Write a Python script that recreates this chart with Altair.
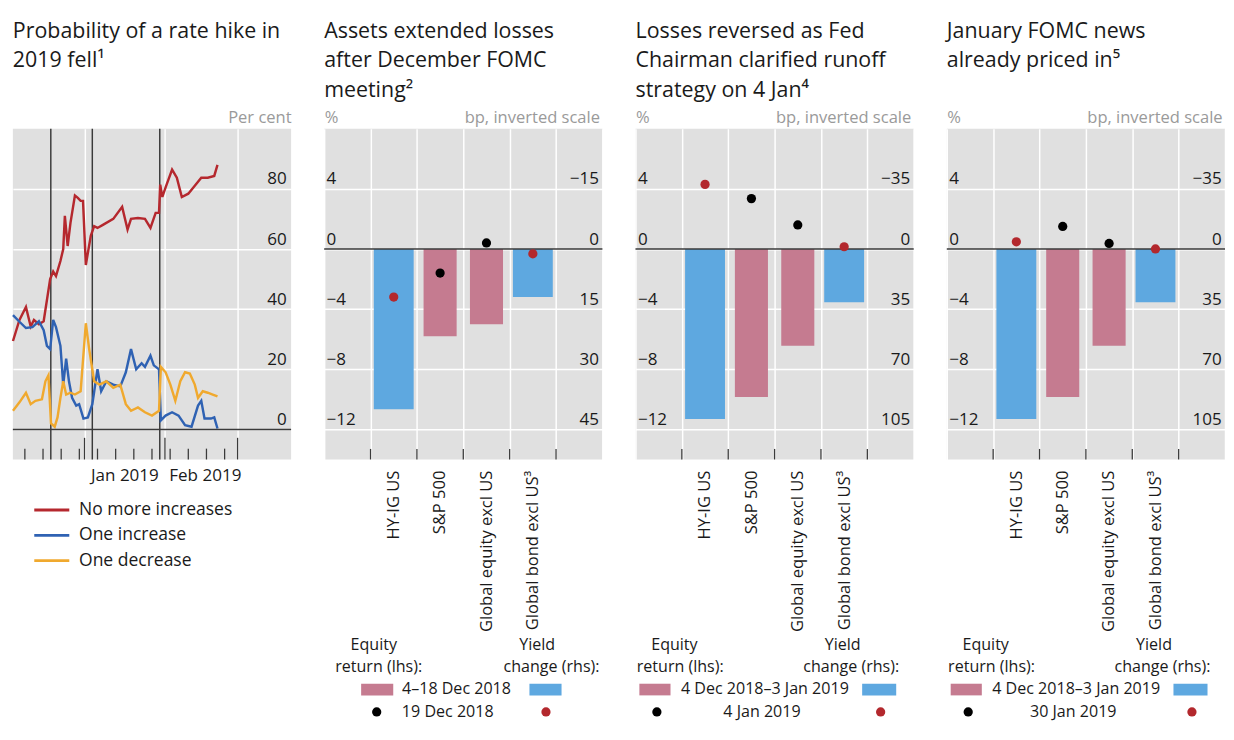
import altair as alt
import pandas as pd

FONT = "Open Sans"
BG = "#e0e0e0"
TXT = "#1a1a1a"
GREY_TXT = "#9a9a9a"
PINK = "#c57b90"
BLUE = "#5ea8e0"
DOT_RED = "#b3282d"
DOT_BLACK = "#000000"
DARK = "#3a3a3a"
W, H = 286, 340

# ---------------- Panel 1 data ----------------
series_names = ["No more increases", "One increase", "One decrease"]
series_colors = ["#b5282e", "#2f62b3", "#f0a92e"]

red_dates = ["2018-12-04T10:00Z", "2018-12-06T22:00Z", "2018-12-09T10:00Z", "2018-12-11T06:00Z",
             "2018-12-12T12:00Z", "2018-12-14T10:00Z", "2018-12-16T06:00Z", "2018-12-18T18:00Z",
             "2018-12-19T22:00Z", "2018-12-21T00:00Z", "2018-12-22T17:00Z", "2018-12-23T19:00Z",
             "2018-12-24T10:00Z", "2018-12-25T12:00Z", "2018-12-26T14:00Z", "2018-12-28T07:00Z",
             "2018-12-29T10:00Z", "2018-12-30T12:00Z", "2018-12-31T10:00Z", "2019-01-01T12:00Z",
             "2019-01-03T10:00Z", "2019-01-04T17:00Z", "2019-01-06T00:00Z", "2019-01-08T02:00Z",
             "2019-01-12T02:00Z", "2019-01-15T12:00Z", "2019-01-17T14:00Z", "2019-01-18T22:00Z",
             "2019-01-21T14:00Z", "2019-01-24T07:00Z", "2019-01-26T10:00Z", "2019-01-28T10:00Z",
             "2019-01-29T17:00Z", "2019-01-30T04:00Z", "2019-01-31T00:00Z", "2019-02-01T06:00Z",
             "2019-02-03T18:00Z", "2019-02-05T14:00Z", "2019-02-07T12:00Z", "2019-02-10T00:00Z",
             "2019-02-12T12:00Z", "2019-02-15T00:00Z", "2019-02-17T12:00Z", "2019-02-20T00:00Z",
             "2019-02-21T06:00Z"]
red_values = [29.4, 36.4, 40.7, 34.2, 36.4, 35, 36, 50, 52.5, 51,
              56, 60, 71, 61, 68.7, 77.8, 77, 76, 76, 54.7,
              64.4, 67.6, 67, 68, 70, 74, 66.5, 70, 70.3, 70,
              67, 72, 72, 81.4, 77.3, 80.5, 86.4, 83.7, 77.3, 78.4,
              81, 83.7, 83.7, 84.3, 88]

blue_dates = ["2018-12-04T10:00Z", "2018-12-06T22:00Z", "2018-12-09T10:00Z", "2018-12-11T22:00Z",
              "2018-12-14T10:00Z", "2018-12-16T06:00Z", "2018-12-17T12:00Z", "2018-12-18T18:00Z",
              "2018-12-19T22:00Z", "2018-12-21T00:00Z", "2018-12-22T17:00Z", "2018-12-23T19:00Z",
              "2018-12-24T22:00Z", "2018-12-26T00:00Z", "2018-12-27T05:00Z", "2018-12-28T19:00Z",
              "2018-12-29T22:00Z", "2018-12-31T14:00Z", "2019-01-02T07:00Z", "2019-01-04T00:00Z",
              "2019-01-06T00:00Z", "2019-01-07T10:00Z", "2019-01-09T10:00Z", "2019-01-12T02:00Z",
              "2019-01-14T19:00Z", "2019-01-16T22:00Z", "2019-01-18T22:00Z", "2019-01-20T22:00Z",
              "2019-01-23T00:00Z", "2019-01-24T07:00Z", "2019-01-26T10:00Z", "2019-01-27T17:00Z",
              "2019-01-29T17:00Z", "2019-01-30T10:00Z", "2019-02-01T06:00Z", "2019-02-03T18:00Z",
              "2019-02-06T06:00Z", "2019-02-08T18:00Z", "2019-02-11T06:00Z", "2019-02-13T18:00Z",
              "2019-02-15T00:00Z", "2019-02-16T06:00Z", "2019-02-18T18:00Z", "2019-02-20T00:00Z",
              "2019-02-21T06:00Z"]
blue_values = [38, 35.8, 33.7, 34, 36, 33, 27.8, 26.7, 36.4, 34,
               27.8, 14.9, 23.5, 16, 10.5, 7.9, 8.4, 3.6, 4, 8.4,
               20, 12.7, 16, 14.9, 14.3, 19, 26.7, 20, 22, 20.8,
               24.5, 21.3, 20, 3, 4.6, 5.7, 4.6, 1.4, 0.9, 7.9,
               9.5, 3.6, 3.6, 4, 0.3]

yellow_dates = ["2018-12-04T10:00Z", "2018-12-06T22:00Z", "2018-12-09T10:00Z", "2018-12-11T06:00Z",
                "2018-12-13T02:00Z", "2018-12-15T14:00Z", "2018-12-16T22:00Z", "2018-12-18T02:00Z",
                "2018-12-19T02:00Z", "2018-12-20T12:00Z", "2018-12-21T14:00Z", "2018-12-22T17:00Z",
                "2018-12-23T19:00Z", "2018-12-24T22:00Z", "2018-12-26T14:00Z", "2018-12-28T07:00Z",
                "2018-12-30T12:00Z", "2019-01-01T12:00Z", "2019-01-02T19:00Z", "2019-01-04T17:00Z",
                "2019-01-06T17:00Z", "2019-01-09T10:00Z", "2019-01-12T02:00Z", "2019-01-14T19:00Z",
                "2019-01-16T22:00Z", "2019-01-18T22:00Z", "2019-01-21T14:00Z", "2019-01-24T07:00Z",
                "2019-01-27T00:00Z", "2019-01-29T17:00Z", "2019-01-30T10:00Z", "2019-02-01T06:00Z",
                "2019-02-03T02:00Z", "2019-02-05T00:00Z", "2019-02-06T22:00Z", "2019-02-08T18:00Z",
                "2019-02-10T14:00Z", "2019-02-12T12:00Z", "2019-02-13T18:00Z", "2019-02-15T14:00Z",
                "2019-02-17T12:00Z", "2019-02-19T10:00Z", "2019-02-21T06:00Z"]
yellow_values = [6.2, 9, 12.2, 8.4, 9.5, 10, 16, 18, 2, 0.9,
                 4, 10.5, 16, 11.6, 12.2, 11.6, 12.7, 35.3, 26.7, 16,
                 14.9, 16, 13.8, 14.9, 8.4, 6.2, 7.3, 5.7, 4.6, 6.2,
                 20.8, 19, 14.9, 9.5, 16, 19, 18.6, 14.9, 10.5, 12.7,
                 12.2, 11.6, 11]

event_dates = ["2018-12-19T00:00Z", "2019-01-04T00:00Z", "2019-01-30T00:00Z"]
week_tick_dates = ["2018-12-09T00:00Z", "2018-12-16T00:00Z", "2018-12-23T00:00Z", "2018-12-30T00:00Z",
                   "2019-01-06T00:00Z", "2019-01-13T00:00Z", "2019-01-20T00:00Z", "2019-01-27T00:00Z",
                   "2019-02-03T00:00Z", "2019-02-10T00:00Z", "2019-02-17T00:00Z", "2019-02-24T00:00Z"]
month_tick_dates = ["2019-01-01T00:00Z", "2019-02-01T00:00Z", "2019-03-01T00:00Z"]

# ---------------- Bar panels data ----------------
categories = ["HY-IG US", "S&P 500", "Global equity excl US", "Global bond excl US³"]
cat_domain = [" "] + categories + ["  "]
equity_cats = ["S&P 500", "Global equity excl US"]
yield_cats = ["HY-IG US", "Global bond excl US³"]

# panel 2: after December FOMC
p2_equity_bars = [-5.8, -5.0]      # %
p2_equity_dots = [-1.6, 0.4]       # %
p2_yield_bars = [40, 12]           # bp
p2_yield_dots = [12, 1.2]          # bp
# panel 3: 4 Jan
p3_equity_bars = [-9.84, -6.44]
p3_equity_dots = [3.35, 1.6]
p3_yield_bars = [99, 31]
p3_yield_dots = [-37.6, -1.3]
# panel 4: January FOMC
p4_equity_bars = [-9.84, -6.44]
p4_equity_dots = [1.5, 0.37]
p4_yield_bars = [99, 31]
p4_yield_dots = [-4.2, 0.0]

titles = [
    ["Probability of a rate hike in", "2019 fell¹"],
    ["Assets extended losses", "after December FOMC", "meeting²"],
    ["Losses reversed as Fed", "Chairman clarified runoff", "strategy on 4 Jan⁴"],
    ["January FOMC news", "already priced in⁵"],
]

one = pd.DataFrame({"k": [0]})
TITLE_Y = [-93, -63, -33]


def title_marks(lines_):
    return [alt.Chart(one).mark_text(text=t, align="left", baseline="alphabetic", fontSize=22,
                                     color=TXT).encode(x=alt.value(0), y=alt.value(ty))
            for t, ty in zip(lines_, TITLE_Y)]


def udt(y, m, d, h=0):
    return alt.DateTime(year=y, month=m, date=d, hours=h, utc=True)


# ---------------- Panel 1 ----------------
x_time_scale = alt.Scale(type="utc", domain=[udt(2018, 12, 4, 9), udt(2019, 3, 21, 15)])
x_time_axis = alt.Axis(values=[udt(2019, 1, 1), udt(2019, 2, 1), udt(2019, 3, 1)],
                       format="%b %Y", labelExpr="datum.label == 'Mar 2019' ? '' : datum.label",
                       labelOffset=41, labelPadding=8, labelAngle=0, labelBaseline="top",
                       grid=True, ticks=False, domain=False, title=None)
y1_scale = alt.Scale(domain=[-10, 100], nice=False, zero=False)
y1_axis = alt.Axis(orient="right", values=[0, 20, 40, 60, 80], grid=True, ticks=False, domain=False,
                   labelAlign="right", labelPadding=-5, labelBaseline="alphabetic", labelOffset=-5,
                   title="Per cent", titleAngle=0, titleAlign="right", titleBaseline="alphabetic",
                   titleX=0, titleY=-6)


def xt():
    return alt.X("date:T", scale=x_time_scale, axis=x_time_axis)


def y1d(v):
    return alt.YDatum(v, scale=y1_scale, axis=y1_axis)


line_df = pd.concat([
    pd.DataFrame({"date": red_dates, "value": red_values, "series": series_names[0]}),
    pd.DataFrame({"date": blue_dates, "value": blue_values, "series": series_names[1]}),
    pd.DataFrame({"date": yellow_dates, "value": yellow_values, "series": series_names[2]}),
])

wk = alt.Chart(pd.DataFrame({"date": week_tick_dates})).mark_rule(color=DARK, strokeWidth=1.3).encode(
    x=xt(), y=y1d(-10), y2=alt.Y2Datum(-6.4))
mt = alt.Chart(pd.DataFrame({"date": month_tick_dates})).mark_rule(color=DARK, strokeWidth=1.3).encode(
    x=xt(), y=y1d(-10), y2=alt.Y2Datum(-2.8))
ev = alt.Chart(pd.DataFrame({"date": event_dates})).mark_rule(color=DARK, strokeWidth=1.5).encode(x=xt())
lines = alt.Chart(line_df).mark_line(strokeWidth=2.5).encode(
    x=xt(),
    y=alt.Y("value:Q", scale=y1_scale, axis=y1_axis),
    color=alt.Color("series:N", scale=alt.Scale(domain=series_names, range=series_colors), legend=None),
)
zero1 = alt.Chart(one).mark_rule(color=DARK, strokeWidth=1.5).encode(y=y1d(0))

leg1 = []
leg_rows = [392, 418, 444]
for nm, col, ly in zip(series_names, series_colors, leg_rows):
    leg1.append(alt.Chart(one).mark_rule(color=col, strokeWidth=3).encode(
        x=alt.value(22), x2=alt.value(58), y=alt.value(ly)))
    leg1.append(alt.Chart(one).mark_text(text=nm, align="left", baseline="middle", fontSize=18,
                                         color=TXT).encode(x=alt.value(68), y=alt.value(ly)))

p1 = alt.layer(wk, mt, ev, lines, zero1, *leg1, *title_marks(titles[0])).properties(width=W, height=H)

# ---------------- Bar panels ----------------
x_cat_scale = alt.Scale(domain=cat_domain, paddingInner=0, paddingOuter=0)
x_cat_axis = alt.Axis(labelAngle=270, labelPadding=11, grid=True, tickBand="extent", ticks=False,
                      domain=False, title=None, labelLimit=400, labelFontSize=17)
pct_scale = alt.Scale(domain=[-14, 8], nice=False, zero=False)
pct_axis = alt.Axis(orient="left", values=[-12, -8, -4, 0, 4], grid=True, ticks=False, domain=False,
                    labelAlign="left", labelPadding=-2, labelBaseline="alphabetic", labelOffset=-5,
                    title="%", titleAngle=0, titleAlign="left", titleBaseline="alphabetic",
                    titleX=0, titleY=-6)


def xc(bp=None):
    if bp is None:
        return alt.X("cat:N", scale=x_cat_scale, axis=x_cat_axis)
    return alt.X("cat:N", scale=x_cat_scale, axis=x_cat_axis, bandPosition=bp)


LEG_ROWS = [530.5, 553, 576.5, 599.5]
LEG_FS = 16.5


def ltext(txt, x, y, align="center"):
    return alt.Chart(one).mark_text(text=txt, align=align, baseline="middle", fontSize=LEG_FS,
                                    color=TXT).encode(x=alt.value(x), y=alt.value(y))


def bar_panel(title_lines, eq_bars, eq_dots, yl_bars, yl_dots, bp_domain, bp_values,
              period_label, dot_label, lay):
    bp_scale = alt.Scale(domain=bp_domain, reverse=True, nice=False, zero=False)
    bp_axis = alt.Axis(orient="right", values=bp_values, grid=False, ticks=False, domain=False,
                       labelAlign="right", labelPadding=-4, labelBaseline="alphabetic", labelOffset=-5,
                       title="bp, inverted scale", titleAngle=0, titleAlign="right",
                       titleBaseline="alphabetic", titleX=-3, titleY=-6)
    eq_df = pd.DataFrame({"cat": equity_cats, "bar": eq_bars, "dot": eq_dots})
    yl_df = pd.DataFrame({"cat": yield_cats, "bar": yl_bars, "dot": yl_dots})
    tick_df = pd.DataFrame({"cat": cat_domain[1:]})

    ticks = alt.Chart(tick_df).mark_rule(color=DARK, strokeWidth=1.3).encode(
        x=xc(0), y=alt.YDatum(-14, scale=pct_scale, axis=pct_axis), y2=alt.Y2Datum(-13.3))
    eqb = alt.Chart(eq_df).mark_bar(size=34, color=PINK).encode(
        x=xc(), y=alt.Y("bar:Q", scale=pct_scale, axis=pct_axis), y2=alt.Y2Datum(0))
    eqd = alt.Chart(eq_df).mark_circle(size=90, color=DOT_BLACK, opacity=1).encode(
        x=xc(), y=alt.Y("dot:Q", scale=pct_scale, axis=pct_axis))
    layer_a = alt.layer(ticks, eqb, eqd)

    ylb = alt.Chart(yl_df).mark_bar(size=41, color=BLUE).encode(
        x=xc(), y=alt.Y("bar:Q", scale=bp_scale, axis=bp_axis), y2=alt.Y2Datum(0))
    zero = alt.Chart(one).mark_rule(color=DARK, strokeWidth=1.5).encode(
        y=alt.YDatum(0, scale=bp_scale, axis=bp_axis))
    yld = alt.Chart(yl_df).mark_circle(size=90, color=DOT_RED, opacity=1).encode(
        x=xc(), y=alt.Y("dot:Q", scale=bp_scale, axis=bp_axis))
    layer_b = alt.layer(ylb, zero, yld)

    r1, r2, r3, r4 = LEG_ROWS
    leg = [
        ltext("Equity", lay["eq_cx"], r1),
        ltext("return (lhs):", lay["ret_cx"], r2),
        ltext("Yield", lay["y_cx"], r1),
        ltext("change (rhs):", lay["ch_rx"], r2, align="right"),
        alt.Chart(one).mark_rect(color=PINK).encode(
            x=alt.value(lay["pink"][0]), x2=alt.value(lay["pink"][1]),
            y=alt.value(r3 - 6), y2=alt.value(r3 + 6)),
        alt.Chart(one).mark_rect(color=BLUE).encode(
            x=alt.value(lay["blue"][0]), x2=alt.value(lay["blue"][1]),
            y=alt.value(r3 - 6), y2=alt.value(r3 + 6)),
        ltext(period_label, lay["txt_cx"], r3),
        alt.Chart(one).mark_circle(size=90, color=DOT_BLACK, opacity=1).encode(
            x=alt.value(lay["black_x"]), y=alt.value(r4)),
        alt.Chart(one).mark_circle(size=90, color=DOT_RED, opacity=1).encode(
            x=alt.value(lay["red_x"]), y=alt.value(r4)),
        ltext(dot_label, lay["dot_cx"], r4),
    ]
    return alt.layer(layer_a, layer_b, *leg, *title_marks(title_lines)).resolve_scale(
        y="independent").properties(width=W, height=H)


lay2 = {"eq_cx": 51, "ret_cx": 56, "y_cx": 219, "ch_rx": 283, "pink": (38, 71), "blue": (211, 244),
        "txt_cx": 136, "black_x": 54, "red_x": 228, "dot_cx": 127}
lay3 = {"eq_cx": 40, "ret_cx": 46, "y_cx": 213, "ch_rx": 271, "pink": (4, 36), "blue": (233, 268),
        "txt_cx": 133, "black_x": 22, "red_x": 252, "dot_cx": 130}

p2 = bar_panel(titles[1], p2_equity_bars, p2_equity_dots, p2_yield_bars, p2_yield_dots,
               [-30, 52.5], [-15, 0, 15, 30, 45], "4–18 Dec 2018", "19 Dec 2018", lay2)
p3 = bar_panel(titles[2], p3_equity_bars, p3_equity_dots, p3_yield_bars, p3_yield_dots,
               [-70, 122.5], [-35, 0, 35, 70, 105], "4 Dec 2018–3 Jan 2019", "4 Jan 2019", lay3)
p4 = bar_panel(titles[3], p4_equity_bars, p4_equity_dots, p4_yield_bars, p4_yield_dots,
               [-70, 122.5], [-35, 0, 35, 70, 105], "4 Dec 2018–3 Jan 2019", "30 Jan 2019", lay3)

chart = alt.hconcat(p1, p2, p3, p4, spacing=24).properties(
    padding={"left": 0, "top": 3, "right": 0, "bottom": 0}
).configure_view(fill=BG, strokeWidth=0).configure_axis(
    labelFont=FONT, titleFont=FONT, labelFontSize=17.5, titleFontSize=17, labelColor=TXT,
    titleColor=GREY_TXT, titleFontWeight="normal", gridColor="white", gridWidth=1.5, gridOpacity=1
).configure_text(font=FONT, color=TXT)

chart.save("out.html", embed_options={"renderer": "svg", "actions": False})
